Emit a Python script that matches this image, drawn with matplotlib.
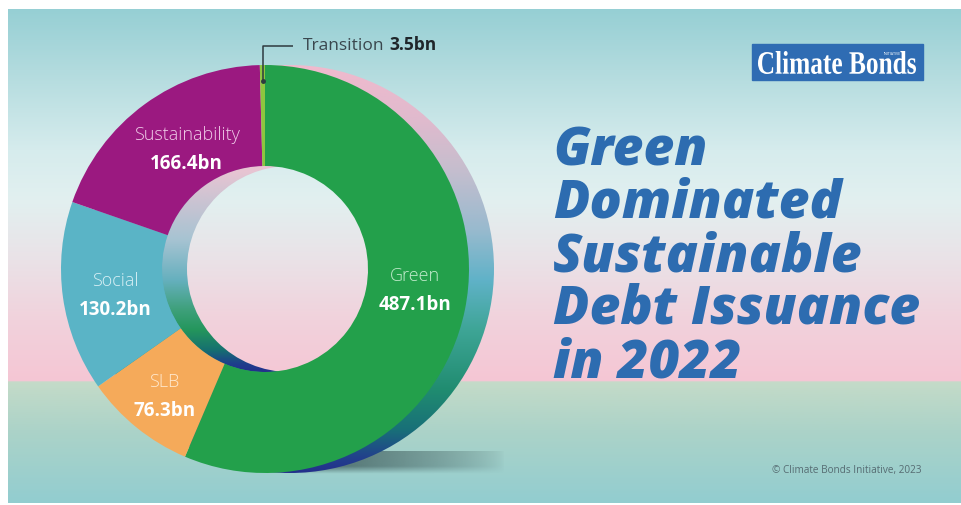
import numpy as np
import matplotlib
matplotlib.use("Agg")
import matplotlib.pyplot as plt
from matplotlib.patches import Circle, Rectangle, PathPatch
from matplotlib.textpath import TextPath
from matplotlib.font_manager import FontProperties
from matplotlib.transforms import Affine2D

# issuance by label, 2022 (USD bn), clockwise from 12 o'clock
labels = ["Green", "SLB", "Social", "Sustainability", "Transition"]
values = [487.1, 76.3, 130.2, 166.4, 3.5]
colors = ["#23a04b", "#f5aa5a", "#5ab4c6", "#9b1980", "#8dc63f"]
name_colors = ["#c4ecce", "#ffe9cf", "#d9f0f5", "#f0cde9", None]
title_lines = ["Green", "Dominated", "Sustainable", "Debt Issuance", "in 2022"]

W, H = 961, 505
plt.rcParams["font.family"] = ["Open Sans", "DejaVu Sans"]

fig = plt.figure(figsize=(W / 100, H / 100), dpi=100, facecolor="white")
ax = fig.add_axes([0, 0, 1, 1])


def Y(py):
    # pixel rows are counted from the top
    return H - py


def gradient(stops, y0, y1, n=400):
    ys = np.linspace(y0, y1, n)
    sy = [s[0] for s in stops]
    cols = np.array([s[1] for s in stops], dtype=float) / 255
    img = np.stack([np.interp(ys, sy, cols[:, k]) for k in range(3)], axis=-1)
    return img[:, None, :]


# backdrop: sky fading to pink, hard horizon, then teal floor
bg_stops = [(9, (150, 207, 212)), (70, (178, 219, 222)), (150, (214, 236, 237)),
            (200, (226, 240, 240)), (260, (234, 226, 231)), (320, (241, 210, 220)),
            (381, (245, 198, 212)), (382, (196, 219, 200)), (430, (172, 211, 200)),
            (503, (146, 205, 208))]
bg = gradient(bg_stops, 9, 503, 600)
bg_ext = [8, W, Y(503), Y(9)]
ax.imshow(bg, extent=bg_ext, aspect="auto", zorder=0, interpolation="bilinear")

# donut geometry (pixels)
cx, cy = 265, Y(269)
R, r_in = 204, 103
depth = 25

# ground shadow
sx = np.linspace(0, 1, 200)
sy = np.linspace(0, 1, 30)
alpha = (np.clip(1 - sx, 0, 1) ** 0.7)[None, :] * np.clip(sy * 3, 0, 1)[:, None]
alpha = alpha[::-1]  # soft top edge
shadow = np.zeros((30, 200, 4))
shadow[..., 0], shadow[..., 1], shadow[..., 2] = 70 / 255, 100 / 255, 100 / 255
shadow[..., 3] = alpha * 0.95
ax.imshow(shadow, extent=[300, 505, Y(474), Y(451)], aspect="auto", zorder=1,
          interpolation="bilinear")

# outer side wall, seen past the right edge of the face
band_stops = [(65, (240, 186, 206)), (120, (224, 186, 205)), (170, (197, 190, 206)),
              (230, (152, 186, 206)), (280, (96, 178, 200)), (330, (62, 165, 150)),
              (390, (32, 140, 112)), (430, (24, 112, 120)), (458, (34, 64, 140)),
              (474, (36, 46, 140))]
band = gradient(band_stops, 60, 478)
back_outer = Circle((cx + depth, cy), R, transform=ax.transData)
im = ax.imshow(band, extent=[cx + depth - R - 2, cx + depth + R + 2, Y(478), Y(60)],
               aspect="auto", zorder=2, interpolation="bilinear")
im.set_clip_path(back_outer)

# inner wall of the hole
wall_stops = [(166, (236, 196, 211)), (200, (204, 196, 210)), (240, (166, 195, 210)),
              (280, (102, 176, 190)), (310, (62, 160, 122)), (330, (36, 150, 92)),
              (350, (22, 112, 112)), (364, (30, 62, 140)), (373, (36, 46, 140))]
wall = gradient(wall_stops, 164, 375)
front_inner = Circle((cx, cy), r_in, transform=ax.transData)
im = ax.imshow(wall, extent=[cx - r_in - 2, cx + r_in + 2, Y(375), Y(164)],
               aspect="auto", zorder=3, interpolation="bilinear")
im.set_clip_path(front_inner)

# see-through opening at the back of the hole
back_inner = Circle((cx + depth, cy), r_in, transform=ax.transData)
im = ax.imshow(bg, extent=bg_ext, aspect="auto", zorder=4, interpolation="bilinear")
im.set_clip_path(back_inner)

# front face
wedges, _ = ax.pie(values, colors=colors, startangle=90, counterclock=False,
                   radius=R, center=(cx, cy),
                   wedgeprops=dict(width=R - r_in, linewidth=0, antialiased=True))
for w in wedges:
    w.set_zorder(5)

# segment labels at each wedge's mid angle, with small hand nudges (px, down +)
nudges = [(-2, -10), (-3, 7), (4, 5), (13, 6), (0, 0)]
total = sum(values)
start = 90.0
for lab, v, nc, (ndx, ndy) in zip(labels, values, name_colors, nudges):
    span = v / total * 360
    mid = np.deg2rad(start - span / 2)
    start -= span
    if nc is None:
        tx, ty = cx + 0.92 * R * np.cos(mid), cy + 0.92 * R * np.sin(mid)
        continue
    lx = cx + 0.76 * R * np.cos(mid) + ndx
    ly = cy + 0.76 * R * np.sin(mid) - ndy
    ax.text(lx, ly + 14.5, lab, color=nc, fontsize=13, fontweight="light",
            ha="center", va="center", zorder=6)
    ax.text(lx, ly - 14.5, f"{v}bn", color="white", fontsize=13.5, fontweight="bold",
            ha="center", va="center", zorder=6)

# leader for the thin Transition slice
ly_top = Y(46)
ax.plot([tx, tx, tx + 30], [ty, ly_top, ly_top], color="#2e3a40", lw=1.1,
        zorder=7, solid_capstyle="butt")
ax.plot([tx], [ty], "o", color="#2e3a40", ms=2.5, zorder=7)
t1 = ax.text(tx + 40, ly_top, "Transition", color="#3a474e", fontsize=12.5,
             ha="left", va="center", zorder=7)
ax.annotate(f"{values[-1]}bn", xy=(1, 0), xycoords=t1, xytext=(4, 0),
            textcoords="offset points", color="#1f262a", fontsize=12.5,
            fontweight="bold", ha="left", va="bottom", zorder=7)

# headline, sized so the longest line spans the panel
baselines = [165, 218, 271, 324, 377]
heads = [ax.text(553, Y(b), s, color="#2d6cb0", fontsize=40, fontweight="extra bold",
                 fontstyle="italic", ha="left", va="baseline", zorder=6)
         for s, b in zip(title_lines, baselines)]
fig.canvas.draw()
rend = fig.canvas.get_renderer()
widest = max(h.get_window_extent(rend).width for h in heads)
for h in heads:
    h.set_fontsize(40 * 367 / widest)

# logo block
ax.add_patch(Rectangle((752, Y(80)), 171, 36, color="#2f6cb3", zorder=6))
tp = TextPath((0, 0), "Climate Bonds",
              prop=FontProperties(family="Liberation Serif", weight="bold"))
ext = tp.get_extents()
sxl = 158 / ext.width
syl = 23 / ext.height
tr = Affine2D().translate(-ext.x0, -ext.y0).scale(sxl, syl).translate(758, Y(74))
ax.add_patch(PathPatch(tr.transform_path(tp), color="white", lw=0, zorder=7))
ax.text(892, Y(54), "INITIATIVE", color="white", fontsize=2.6, ha="center",
        va="center", zorder=7)

ax.text(922, Y(470), "\u00a9 Climate Bonds Initiative, 2023", color="#566c72",
        fontsize=7.2, ha="right", va="center", zorder=6)

ax.set_xlim(0, W)
ax.set_ylim(0, H)
ax.set_aspect("equal")
ax.axis("off")
fig.savefig("out.png", dpi=100, facecolor="white")
